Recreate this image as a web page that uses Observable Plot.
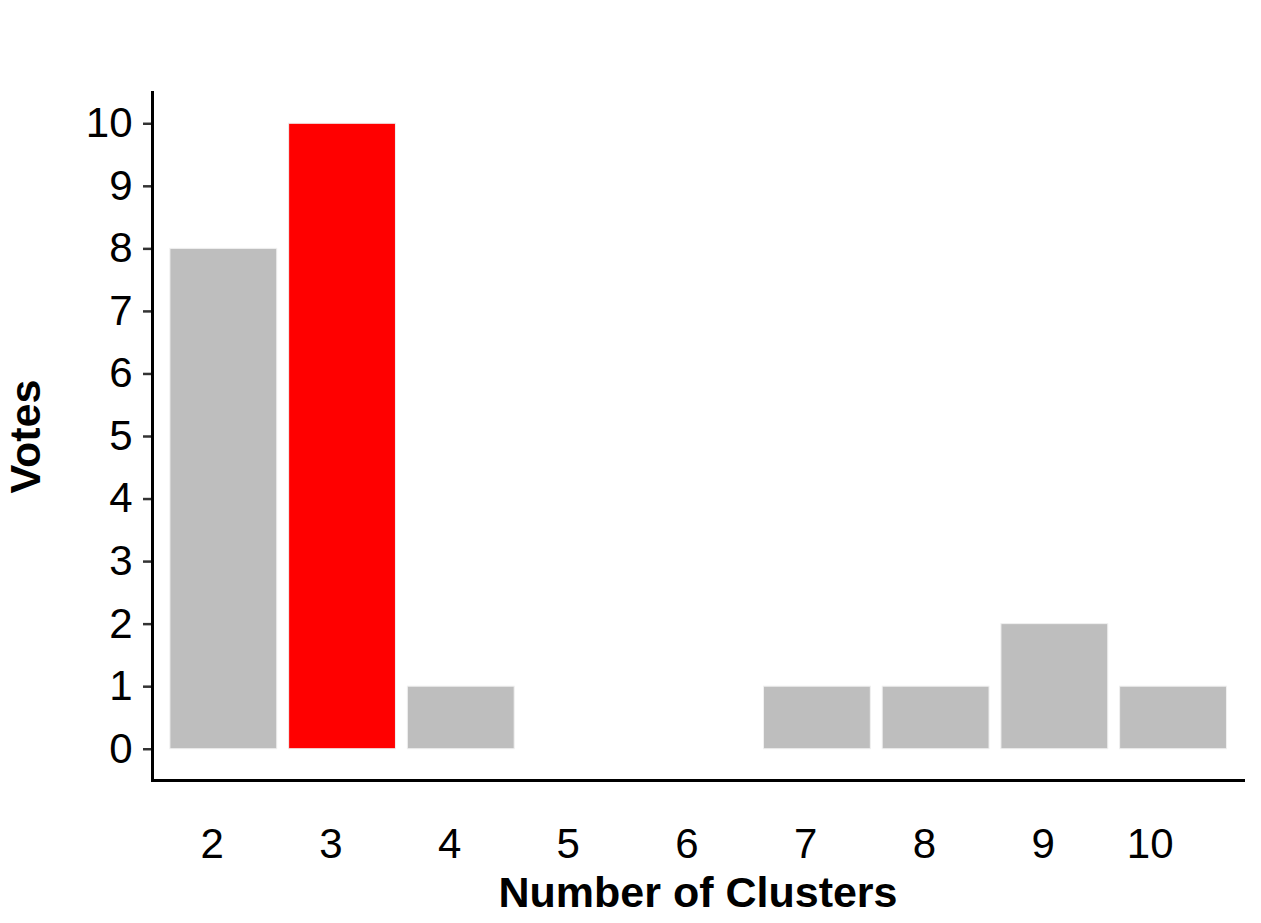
<!DOCTYPE html>
<html>
<head>
<meta charset="utf-8">
<script src="https://cdn.jsdelivr.net/npm/d3@7"></script>
<script src="https://cdn.jsdelivr.net/npm/@observablehq/plot@0.6"></script>
<style>
  html, body { margin: 0; padding: 0; background: #fff; }
</style>
</head>
<body>
<div id="chart"></div>
<script>
const clusters = [2, 3, 4, 5, 6, 7, 8, 9, 10];
const votes = [8, 10, 1, 0, 0, 1, 1, 2, 1];
const best = 3;
const yTicks = [0, 1, 2, 3, 4, 5, 6, 7, 8, 9, 10];
const xTitle = "Number of Clusters";
const yTitle = "Votes";

const data = clusters.map((k, i) => ({k: String(k), votes: votes[i], best: k === best}));

const chart = Plot.plot({
  width: 1261,
  height: 923,
  marginLeft: 152,
  marginRight: 18,
  marginTop: 92,
  marginBottom: 143,
  style: {fontFamily: "'Liberation Sans', Arial, Helvetica, sans-serif", fontSize: "42px", color: "#000", background: "#fff"},
  x: {type: "band", domain: clusters.map(String), paddingInner: 0.1, paddingOuter: 0.145, align: 0.52, round: false},
  y: {domain: [-0.5, 10.5]},
  marks: [
    Plot.barY(data, {x: "k", y: "votes", fill: d => d.best ? "#FF0000" : "#BEBEBE", stroke: "#f0f0f0", strokeWidth: 1}),
    Plot.axisY({ticks: yTicks, tickSize: 9, tickPadding: 11, strokeWidth: 2.5, stroke: "#333", fill: "#000", fontSize: 42, label: null}),
    Plot.axisX({tickSize: 0, tickPadding: 48, textAnchor: "end", fill: "#000", fontSize: 42, label: null}),
    Plot.frame({anchor: "left", stroke: "#000", strokeWidth: 3}),
    Plot.frame({anchor: "bottom", stroke: "#000", strokeWidth: 3}),
    Plot.text([xTitle], {frameAnchor: "bottom", textAnchor: "middle", lineAnchor: "bottom", dy: 126, fontWeight: "bold", fontSize: 43, fill: "#000"}),
    Plot.text([yTitle], {frameAnchor: "left", textAnchor: "middle", lineAnchor: "middle", dx: -126, rotate: -90, fontWeight: "bold", fontSize: 43, fill: "#000"})
  ]
});
document.getElementById("chart").appendChild(chart);
</script>
</body>
</html>
